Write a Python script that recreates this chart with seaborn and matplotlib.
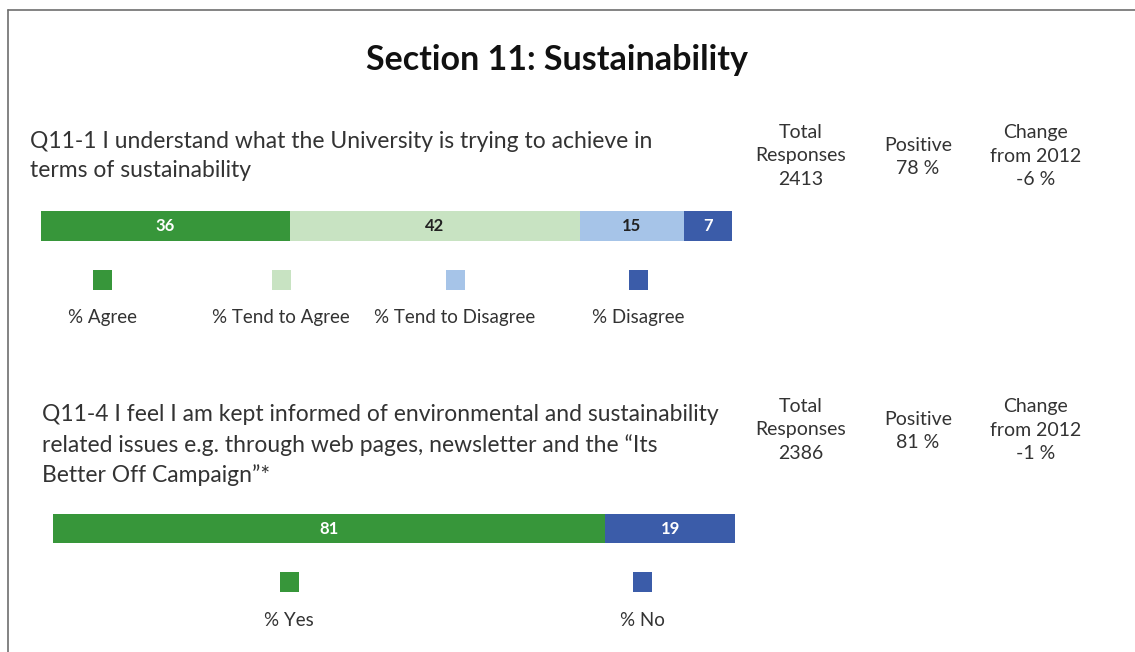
import matplotlib
matplotlib.use("Agg")
import matplotlib.pyplot as plt
import seaborn as sns
import numpy as np
from matplotlib.patches import Rectangle

sns.set_theme(style="white")
plt.rcParams['font.family'] = ['Lato', 'DejaVu Sans']

# data
q1_labels = ["% Agree", "% Tend to Agree", "% Tend to Disagree", "% Disagree"]
q1_values = [36, 42, 15, 7]
q1_colors = ["#37963a", "#c8e3c2", "#a6c4e8", "#3b5ca9"]
q1_text = ["#ffffff", "#222222", "#222222", "#ffffff"]
q1_question = "Q11-1 I understand what the University is trying to achieve in\nterms of sustainability"
q1_stats = ["Total\nResponses\n2413", "Positive\n78 %", "Change\nfrom 2012\n-6 %"]

q2_labels = ["% Yes", "% No"]
q2_values = [81, 19]
q2_colors = ["#37963a", "#3b5ca9"]
q2_text = ["#ffffff", "#ffffff"]
q2_question = ("Q11-4 I feel I am kept informed of environmental and sustainability\n"
               "related issues e.g. through web pages, newsletter and the \u201cIts\n"
               "Better Off Campaign\u201d*")
q2_stats = ["Total\nResponses\n2386", "Positive\n81 %", "Change\nfrom 2012\n-1 %"]

W, H = 1135, 652
fig = plt.figure(figsize=(W / 100, H / 100), dpi=100)

# overlay axes in pixel coords for text and legend squares
bg = fig.add_axes([0, 0, 1, 1])
bg.set_xlim(0, W)
bg.set_ylim(H, 0)
bg.axis("off")

# frame lines
bg.plot([8, W], [10, 10], color="#6e6e6e", lw=1.2)
bg.plot([8, 8], [10, H], color="#6e6e6e", lw=1.2)

bg.text(557, 60, "Section 11: Sustainability", ha="center", va="center",
        fontsize=24.5, fontweight="bold", color="#111111")


def stacked_bar(x0, x1, y0, y1, values, colors, tcolors):
    ax = fig.add_axes([x0 / W, 1 - y1 / H, (x1 - x0) / W, (y1 - y0) / H])
    cum = np.cumsum(values)
    # draw from the largest cumulative value down so each segment shows
    for i in range(len(values) - 1, -1, -1):
        sns.barplot(x=[cum[i]], y=[""], color=colors[i], orient="h",
                    width=1.0, saturation=1, ax=ax, linewidth=0)
    starts = cum - np.array(values)
    for v, s, tc in zip(values, starts, tcolors):
        ax.text(s + v / 2, 0, str(v), ha="center", va="center",
                fontsize=12, fontweight="bold", color=tc)
    ax.set_xlim(0, cum[-1])
    ax.set_ylim(0.5, -0.5)
    ax.axis("off")
    return ax


def legend_row(centers, y_sq, y_lab, labels, colors):
    for cx, lab, c in zip(centers, labels, colors):
        bg.add_patch(Rectangle((cx - 9.5, y_sq - 10), 19, 20, color=c, lw=0))
        bg.text(cx, y_lab, lab, ha="center", va="center", fontsize=13.5,
                color="#333333")


def stats(ys, texts):
    xs = [801, 918, 1036]
    for x, y, t in zip(xs, ys, texts):
        bg.text(x, y, t, ha="center", va="center", fontsize=14,
                color="#333333", linespacing=1.47)


# Q11-1
bg.text(30, 156, q1_question, ha="left", va="center", fontsize=16.5,
        color="#333333", linespacing=1.46)
stats([156, 157, 156], q1_stats)
stacked_bar(41, 732, 211, 241, q1_values, q1_colors, q1_text)
legend_row([102, 281, 455, 638], 280, 318, q1_labels, q1_colors)

# Q11-4
bg.text(42, 445, q2_question, ha="left", va="center", fontsize=16.5,
        color="#333333", linespacing=1.46)
stats([430, 431, 430], q2_stats)
stacked_bar(53, 735, 514, 543, q2_values, q2_colors, q2_text)
legend_row([289, 642], 582, 620, q2_labels, q2_colors)

fig.savefig("out.png", dpi=100, facecolor="white")
